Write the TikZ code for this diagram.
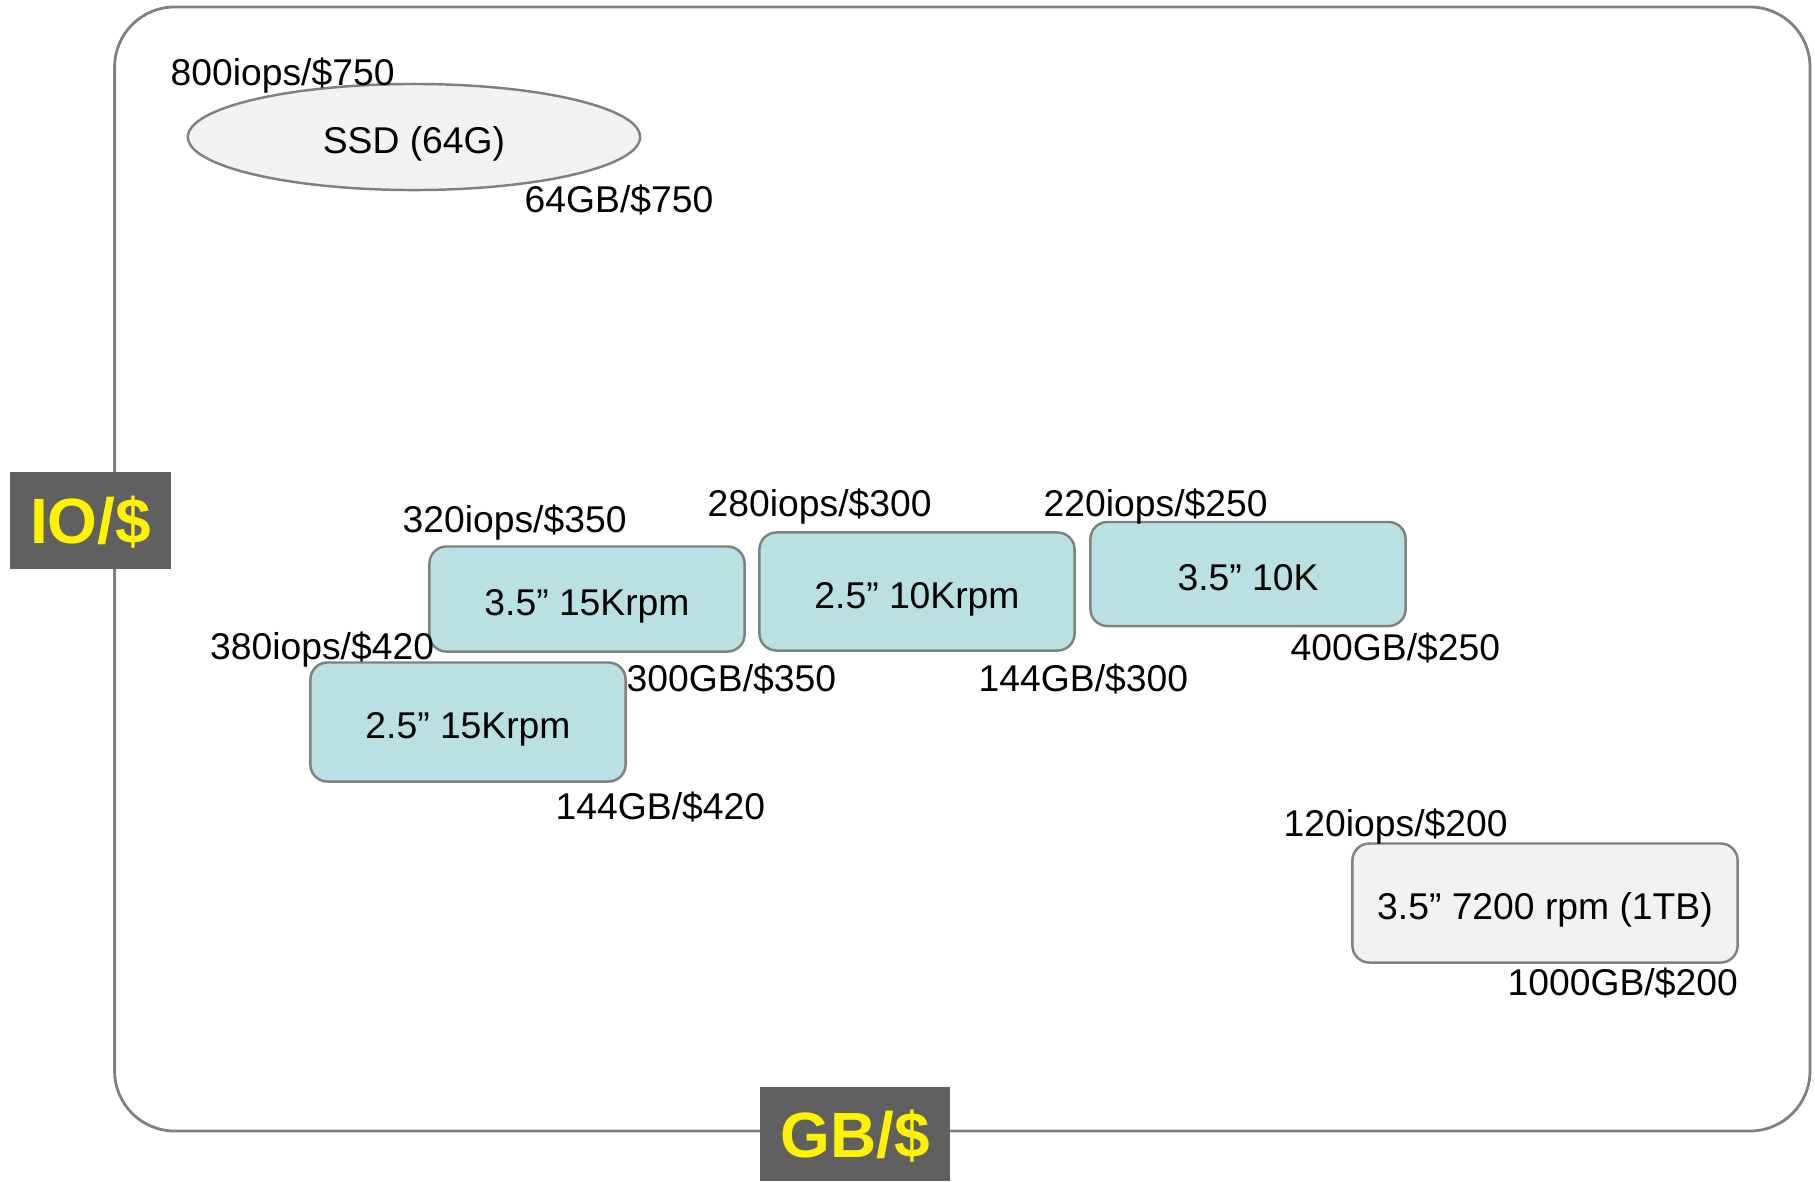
\documentclass[tikz,border=0pt]{standalone}
\usepackage{fontspec}
\setmainfont{Liberation Sans}
\usetikzlibrary{shapes.geometric}

\definecolor{linegray}{RGB}{128,128,128}
\definecolor{diskteal}{RGB}{185,224,227}
\definecolor{disklight}{RGB}{242,242,242}
\definecolor{axisgray}{RGB}{96,96,96}

\tikzset{
	drive/.style={draw=linegray, line width=0.7pt, rounded corners=0.17cm, fill=diskteal,
		minimum width=3.15cm, inner sep=0pt, text height=10.2pt, text depth=0.6pt,
		font=\fontsize{10.6}{12}\selectfont},
	price/.style={anchor=base west, inner sep=0pt, font=\fontsize{10.6}{12}\selectfont},
	axis/.style={fill=axisgray, text=yellow, inner sep=0pt, text height=13.2pt, text depth=0pt,
		font=\fontsize{18.2}{20}\selectfont\bfseries}
}

\begin{document}
\begin{tikzpicture}[x=0.01cm, y=-0.01cm]
	\useasboundingbox (0,0) rectangle (1815,1181);
	\draw[draw=linegray, line width=0.8pt, rounded corners=0.6cm] (114.6,7) rectangle (1810,1131);

	% drives
	\node[draw=linegray, line width=0.7pt, fill=disklight, ellipse, inner sep=0pt,
		minimum width=4.52cm, minimum height=1.06cm, text height=10.1pt, text depth=0.5pt,
		font=\fontsize{10.6}{12}\selectfont] (ssd) at (414,137) {SSD (64G)};
	\node[drive, minimum height=1.05cm] (d35f) at (587,599) {3.5” 15Krpm};
	\node[drive, minimum height=1.18cm] (d25t) at (917,591.5) {2.5” 10Krpm};
	\node[drive, minimum height=1.04cm] (d35t) at (1248,574) {3.5” 10K};
	\node[drive, minimum height=1.19cm] (d25f) at (468,722) {2.5” 15Krpm};
	\node[drive, minimum height=1.19cm, minimum width=3.85cm, fill=disklight] (d35s) at (1545,903) {3.5” 7200 rpm (1TB)};

	% prices
	\node[price] (ssdio) at (170,85) {800iops/\$750};
	\node[price] (ssdgb) at (524,212) {64GB/\$750};
	\node[price] (d35fio) at (402,532) {320iops/\$350};
	\node[price] (d35fgb) at (626,691) {300GB/\$350};
	\node[price] (d25tio) at (707,516) {280iops/\$300};
	\node[price] (d25tgb) at (978,691) {144GB/\$300};
	\node[price] (d35tio) at (1043,516) {220iops/\$250};
	\node[price] (d35tgb) at (1290,660) {400GB/\$250};
	\node[price] (d25fio) at (209.5,659) {380iops/\$420};
	\node[price] (d25fgb) at (555,819) {144GB/\$420};
	\node[price] (d35sio) at (1283,836) {120iops/\$200};
	\node[price] (d35sgb) at (1507,995) {1000GB/\$200};

	% axes
	\node[axis, minimum width=1.61cm, minimum height=0.97cm] (iops) at (90.5,520.5) {IO/\$};
	\node[axis, minimum width=1.90cm, minimum height=0.94cm] (gbs) at (855,1134) {GB/\$};
\end{tikzpicture}
\end{document}
